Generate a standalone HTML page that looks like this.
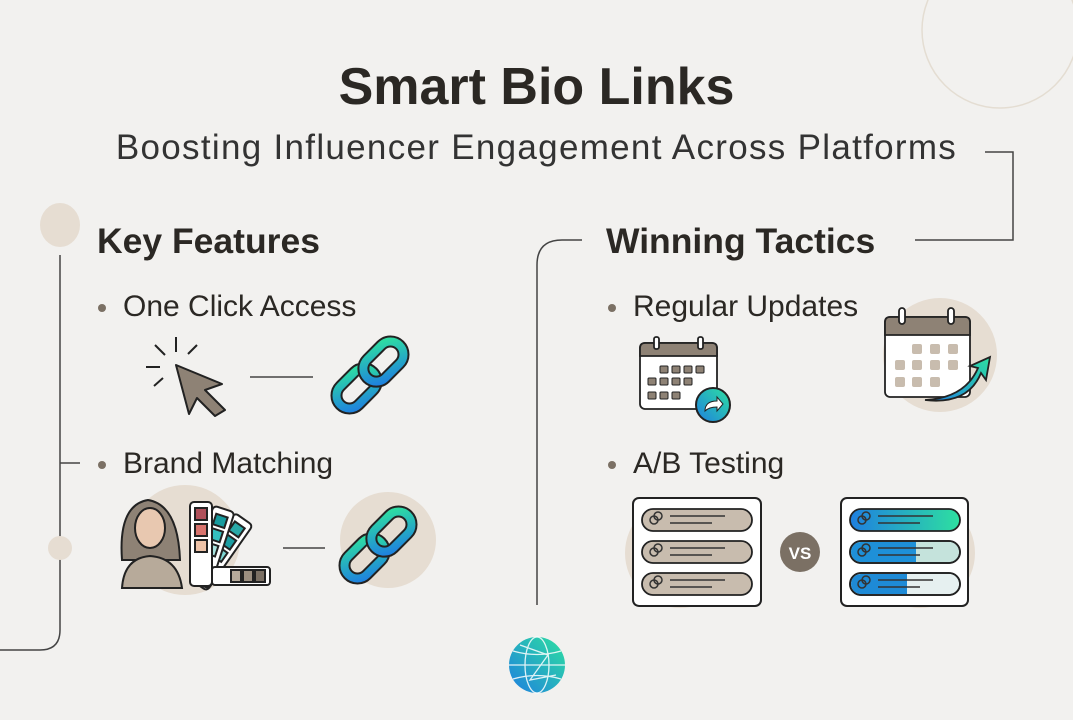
<!DOCTYPE html>
<html><head><meta charset="utf-8"><style>
html,body{margin:0;padding:0}
body{width:1073px;height:720px;background:#f2f1ef;position:relative;overflow:hidden;font-family:"Liberation Sans",sans-serif;color:#2b2824}
.t{position:absolute;white-space:nowrap}
</style></head><body>
<svg width="1073" height="720" style="position:absolute;left:0;top:0">
<defs>
<linearGradient id="g" x1="0" y1="1" x2="1" y2="0"><stop offset="0" stop-color="#1e7fe0"/><stop offset="1" stop-color="#2ee0a0"/></linearGradient>
<linearGradient id="gh" x1="0" y1="0" x2="1" y2="0"><stop offset="0" stop-color="#1e7fe0"/><stop offset="1" stop-color="#2ee0a0"/></linearGradient>
<g id="chain">
<g transform="rotate(-45)">
<rect x="-42" y="-13" width="46" height="26" rx="13" fill="none" stroke="#222" stroke-width="12"/>
<rect x="-42" y="-13" width="46" height="26" rx="13" fill="none" stroke="url(#g)" stroke-width="8"/>
<rect x="-4" y="-13" width="46" height="26" rx="13" fill="none" stroke="#222" stroke-width="12"/>
<rect x="-4" y="-13" width="46" height="26" rx="13" fill="none" stroke="url(#g)" stroke-width="8"/>
</g></g>
</defs>
<circle cx="1000" cy="30" r="78" fill="none" stroke="#e4ddd2" stroke-width="1.5"/>
<polyline points="985,152 1013,152 1013,240 915,240" fill="none" stroke="#444" stroke-width="1.5"/>
<path d="M60,255 V630 Q60,650 40,650 H0" fill="none" stroke="#444" stroke-width="1.5"/>
<line x1="60" y1="463" x2="80" y2="463" stroke="#444" stroke-width="1.5"/>
<ellipse cx="60" cy="225" rx="20" ry="22" fill="#e6ddd2"/>
<circle cx="60" cy="548" r="12" fill="#e6ddd2"/>
<path d="M537,605 V265 Q537,240 562,240 H582" fill="none" stroke="#444" stroke-width="1.5"/>
<circle cx="102" cy="308" r="4" fill="#7b7064"/><circle cx="102" cy="465" r="4" fill="#7b7064"/>
<circle cx="612" cy="308" r="4" fill="#7b7064"/><circle cx="612" cy="465" r="4" fill="#7b7064"/>
<g stroke="#222" stroke-width="2"><line x1="176" y1="337" x2="176" y2="352"/><line x1="155" y1="345" x2="165" y2="355"/><line x1="197" y1="345" x2="188" y2="354"/><line x1="146" y1="367" x2="160" y2="367"/><line x1="154" y1="386" x2="163" y2="378"/></g>
<path d="M176,365 L222,384 L205,390 L225,410 L215,416 L197,398 L189,414 Z" fill="#8e8275" stroke="#222" stroke-width="2" stroke-linejoin="round"/>
<line x1="250" y1="377" x2="313" y2="377" stroke="#444" stroke-width="1.5"/>
<use href="#chain" x="370" y="375"/>
<circle cx="185" cy="540" r="55" fill="#e6ddd2"/>
<circle cx="388" cy="540" r="48" fill="#e6ddd2"/>
<path d="M122,560 Q118,505 148,500 Q178,505 180,560 Z" fill="#8e8275" stroke="#222" stroke-width="2"/>
<ellipse cx="150" cy="528" rx="15" ry="20" fill="#e8c8b0" stroke="#222" stroke-width="2"/>
<path d="M122,588 Q124,558 150,556 Q178,558 182,588 Z" fill="#b7aa9a" stroke="#222" stroke-width="2"/>
<g stroke="#222" stroke-width="2">
<g transform="rotate(35 200 580)"><rect x="190" y="505" width="22" height="80" rx="4" fill="#fff"/><rect x="195" y="512" width="12" height="11" fill="#2aa9a8"/><rect x="195" y="527" width="12" height="11" fill="#1d9ea3"/><rect x="195" y="542" width="12" height="11" fill="#7ed6d2"/></g>
<g transform="rotate(18 200 580)"><rect x="190" y="505" width="22" height="80" rx="4" fill="#fff"/><rect x="195" y="512" width="12" height="11" fill="#179b9e"/><rect x="195" y="527" width="12" height="11" fill="#35c0c0"/><rect x="195" y="542" width="12" height="11" fill="#a8e3de"/></g>
<rect x="190" y="502" width="22" height="84" rx="4" fill="#fff"/>
<rect x="195" y="508" width="12" height="12" fill="#b0505a"/><rect x="195" y="524" width="12" height="12" fill="#d9746e"/><rect x="195" y="540" width="12" height="12" fill="#eec3a8"/>
<rect x="212" y="567" width="58" height="18" rx="3" fill="#fff"/>
<rect x="231" y="570" width="10" height="12" fill="#b7aa9a"/><rect x="243" y="570" width="10" height="12" fill="#9c8f80"/><rect x="255" y="570" width="10" height="12" fill="#7b7064"/>
</g>
<line x1="283" y1="548" x2="325" y2="548" stroke="#444" stroke-width="1.5"/>
<use href="#chain" x="378" y="545"/>
<g stroke="#222" stroke-width="1.8">
<rect x="640" y="343" width="77" height="66" rx="5" fill="#fff"/>
<path d="M640,356 v-8 q0,-5 5,-5 h67 q5,0 5,5 v8 z" fill="#8e8275"/>
<rect x="654" y="337" width="5" height="12" rx="2" fill="#fff"/><rect x="698" y="337" width="5" height="12" rx="2" fill="#fff"/>
</g>
<g fill="#8e8275" stroke="#222" stroke-width="1">
<rect x="660" y="366" width="8" height="7" rx="1"/><rect x="672" y="366" width="8" height="7" rx="1"/><rect x="684" y="366" width="8" height="7" rx="1"/><rect x="696" y="366" width="8" height="7" rx="1"/>
<rect x="648" y="378" width="8" height="7" rx="1"/><rect x="660" y="378" width="8" height="7" rx="1"/><rect x="672" y="378" width="8" height="7" rx="1"/><rect x="684" y="378" width="8" height="7" rx="1"/>
<rect x="648" y="392" width="8" height="7" rx="1"/><rect x="660" y="392" width="8" height="7" rx="1"/><rect x="672" y="392" width="8" height="7" rx="1"/>
</g>
<circle cx="713" cy="405" r="17" fill="url(#g)" stroke="#222" stroke-width="2"/>
<path d="M705,411 q0,-10 12,-10 v-4 l6,7 l-6,7 v-4 q-8,0 -12,4z" fill="#fff" stroke="#222" stroke-width="1"/>
<circle cx="940" cy="355" r="57" fill="#e6ddd2"/>
<g stroke="#222" stroke-width="1.8">
<rect x="885" y="317" width="85" height="80" rx="5" fill="#fff"/>
<path d="M885,335 v-13 q0,-5 5,-5 h75 q5,0 5,5 v13 z" fill="#8e8275"/>
<rect x="899" y="308" width="6" height="16" rx="3" fill="#fff"/><rect x="948" y="308" width="6" height="16" rx="3" fill="#fff"/>
</g>
<g fill="#c8bcae">
<rect x="912" y="344" width="10" height="10" rx="2"/><rect x="930" y="344" width="10" height="10" rx="2"/><rect x="948" y="344" width="10" height="10" rx="2"/>
<rect x="895" y="360" width="10" height="10" rx="2"/><rect x="912" y="360" width="10" height="10" rx="2"/><rect x="930" y="360" width="10" height="10" rx="2"/><rect x="948" y="360" width="10" height="10" rx="2"/>
<rect x="895" y="377" width="10" height="10" rx="2"/><rect x="912" y="377" width="10" height="10" rx="2"/><rect x="930" y="377" width="10" height="10" rx="2"/>
</g>
<path d="M925,400 Q965,398 978,368 L970,366 L990,357 L986,380 L981,373 Q968,405 925,400Z" fill="url(#g)" stroke="#222" stroke-width="1.8"/>
<circle cx="680" cy="553" r="55" fill="#e6ddd2"/><circle cx="920" cy="553" r="55" fill="#e6ddd2"/>
<rect x="633" y="498" width="128" height="108" rx="6" fill="#fff" stroke="#222" stroke-width="2"/>
<rect x="841" y="498" width="127" height="108" rx="6" fill="#fff" stroke="#222" stroke-width="2"/>
<g stroke="#222" stroke-width="1.8" fill="#c8bcae">
<rect x="642" y="509" width="110" height="22" rx="11"/><rect x="642" y="541" width="110" height="22" rx="11"/><rect x="642" y="573" width="110" height="22" rx="11"/>
<rect x="850" y="509" width="110" height="22" rx="11" fill="url(#gh)"/>
<rect x="850" y="541" width="110" height="22" rx="11" fill="#c5e3dc"/>
<rect x="850" y="573" width="110" height="22" rx="11" fill="#e6f0f0"/>
</g>
<path d="M861,542 h55 v20 h-55 a10,10 0 0 1 0,-20z" fill="#1e90d8"/>
<path d="M861,574 h46 v20 h-46 a10,10 0 0 1 0,-20z" fill="#1e8ad6"/>
<g stroke="#222" stroke-width="1.8" fill="none"><rect x="850" y="541" width="110" height="22" rx="11"/><rect x="850" y="573" width="110" height="22" rx="11"/></g>
<g stroke="#333" stroke-width="1.5">
<line x1="670" y1="516" x2="725" y2="516"/><line x1="670" y1="523" x2="712" y2="523"/>
<line x1="670" y1="548" x2="725" y2="548"/><line x1="670" y1="555" x2="712" y2="555"/>
<line x1="670" y1="580" x2="725" y2="580"/><line x1="670" y1="587" x2="712" y2="587"/>
<line x1="878" y1="516" x2="933" y2="516"/><line x1="878" y1="523" x2="920" y2="523"/>
<line x1="878" y1="548" x2="933" y2="548"/><line x1="878" y1="555" x2="920" y2="555"/>
<line x1="878" y1="580" x2="933" y2="580"/><line x1="878" y1="587" x2="920" y2="587"/>
<g fill="none"><circle cx="654" cy="520" r="4"/><circle cx="658" cy="516" r="4"/><circle cx="654" cy="552" r="4"/><circle cx="658" cy="548" r="4"/><circle cx="654" cy="584" r="4"/><circle cx="658" cy="580" r="4"/>
<circle cx="862" cy="520" r="4"/><circle cx="866" cy="516" r="4"/><circle cx="862" cy="552" r="4"/><circle cx="866" cy="548" r="4"/><circle cx="862" cy="584" r="4"/><circle cx="866" cy="580" r="4"/></g>
</g>
<circle cx="800" cy="552" r="20" fill="#7b7064"/>
<text x="800" y="559" text-anchor="middle" font-family="Liberation Sans" font-weight="bold" font-size="17" fill="#fff">VS</text>
<circle cx="537" cy="665" r="28" fill="url(#g)"/>
<g stroke="#fff" stroke-width="1.3" fill="none" opacity=".85"><ellipse cx="537" cy="665" rx="12" ry="28"/><line x1="509" y1="665" x2="565" y2="665"/><path d="M513,651 Q537,658 561,651 M513,679 Q537,672 561,679"/><path d="M520,645 L548,655 L530,680 L556,675"/></g>
</svg>
<div class="t" style="left:0;width:1073px;text-align:center;top:57px;font-size:52px;font-weight:bold">Smart Bio Links</div>
<div class="t" style="left:0;width:1073px;text-align:center;top:128px;font-size:35px;letter-spacing:1.3px;color:#333">Boosting Influencer Engagement Across Platforms</div>
<div class="t" style="left:97px;top:221px;font-size:35.5px;font-weight:bold">Key Features</div>
<div class="t" style="left:606px;top:221px;font-size:35.5px;font-weight:bold">Winning Tactics</div>
<div class="t" style="left:123px;top:290px;font-size:30px">One Click Access</div>
<div class="t" style="left:123px;top:447px;font-size:30px">Brand Matching</div>
<div class="t" style="left:633px;top:290px;font-size:30px">Regular Updates</div>
<div class="t" style="left:633px;top:447px;font-size:30px">A/B Testing</div>
</body></html>
